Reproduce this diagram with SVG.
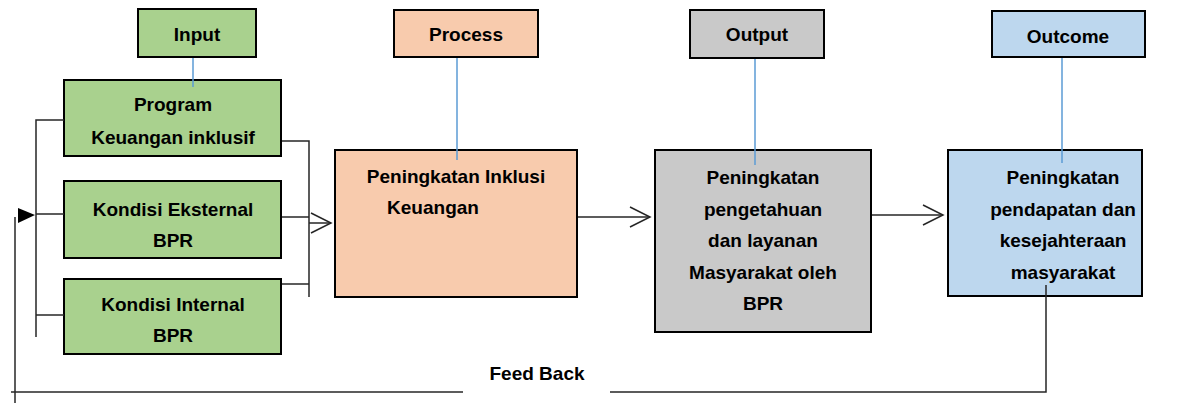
<svg xmlns="http://www.w3.org/2000/svg" width="1188" height="403" viewBox="0 0 1188 403">
  <style>
    .box { stroke: #000; stroke-width: 2; }
    .green { fill: #a9d18e; }
    .peach { fill: #f8cbad; }
    .gray { fill: #c9c9c9; }
    .blue { fill: #bdd7ee; }
    .t { font-family: "Liberation Sans", Arial, sans-serif; font-weight: bold; font-size: 19px; fill: #000; text-anchor: middle; }
    .ln { stroke: #262626; stroke-width: 1.5; fill: none; }
    .tie { stroke: #5b9bd5; stroke-width: 1.5; fill: none; }
  </style>
  <defs>
    <marker id="open" markerWidth="24" markerHeight="24" refX="22" refY="11" orient="auto" markerUnits="userSpaceOnUse">
      <path d="M2,1 L22,11 L2,21" fill="none" stroke="#262626" stroke-width="1.5"/>
    </marker>
  </defs>

  <!-- header labels -->
  <g id="hdr-input">
    <rect class="box green" x="138" y="9" width="118" height="48"/>
    <text class="t" x="197" y="41">Input</text>
  </g>
  <g id="hdr-process">
    <rect class="box peach" x="394" y="10" width="144" height="47"/>
    <text class="t" x="466" y="41">Process</text>
  </g>
  <g id="hdr-output">
    <rect class="box gray" x="690" y="10" width="134" height="48"/>
    <text class="t" x="757" y="41">Output</text>
  </g>
  <g id="hdr-outcome">
    <rect class="box blue" x="992" y="11" width="153" height="46"/>
    <text class="t" x="1068" y="43">Outcome</text>
  </g>

  <!-- input nodes -->
  <g id="program">
    <rect class="box green" x="64" y="80" width="217" height="76"/>
    <text class="t" x="173" y="111">Program</text>
    <text class="t" x="173" y="144">Keuangan inklusif</text>
  </g>
  <g id="eksternal">
    <rect class="box green" x="64" y="181" width="217" height="77"/>
    <text class="t" x="173" y="216">Kondisi Eksternal</text>
    <text class="t" x="173" y="247">BPR</text>
  </g>
  <g id="internal">
    <rect class="box green" x="64" y="279" width="217" height="75"/>
    <text class="t" x="173" y="311">Kondisi Internal</text>
    <text class="t" x="173" y="342">BPR</text>
  </g>

  <!-- process -->
  <g id="process">
    <rect class="box peach" x="335" y="150" width="242" height="147"/>
    <text class="t" x="456" y="183">Peningkatan Inklusi</text>
    <text class="t" x="433" y="214">Keuangan</text>
  </g>

  <!-- output -->
  <g id="output">
    <rect class="box gray" x="655" y="150" width="216" height="182"/>
    <text class="t" x="763" y="184">Peningkatan</text>
    <text class="t" x="763" y="216">pengetahuan</text>
    <text class="t" x="763" y="247">dan layanan</text>
    <text class="t" x="763" y="279">Masyarakat oleh</text>
    <text class="t" x="763" y="310">BPR</text>
  </g>

  <!-- outcome -->
  <g id="outcome">
    <rect class="box blue" x="948" y="150" width="194" height="146"/>
    <text class="t" x="1063" y="184">Peningkatan</text>
    <text class="t" x="1063" y="216">pendapatan dan</text>
    <text class="t" x="1063" y="247">kesejahteraan</text>
    <text class="t" x="1063" y="279">masyarakat</text>
  </g>

  <!-- connectors, drawn over the boxes -->
  <g id="connectors">
    <!-- header ties -->
    <line class="tie" x1="193" y1="58" x2="193" y2="87"/>
    <line class="tie" x1="457" y1="58" x2="457" y2="160"/>
    <line class="tie" x1="755" y1="59" x2="755" y2="165"/>
    <line class="tie" x1="1062" y1="58" x2="1062" y2="163"/>
    <!-- left bracket -->
    <polyline class="ln" points="64,120 36,120 36,337"/>
    <line class="ln" x1="36" y1="214" x2="64" y2="214"/>
    <line class="ln" x1="36" y1="315" x2="64" y2="315"/>
    <!-- right bracket -->
    <polyline class="ln" points="282,141 309,141 309,297"/>
    <line class="ln" x1="282" y1="217" x2="309" y2="217"/>
    <line class="ln" x1="282" y1="284" x2="309" y2="284"/>
    <line class="ln" x1="309" y1="223" x2="331" y2="223" marker-end="url(#open)"/>
    <!-- flow arrows -->
    <line class="ln" x1="578" y1="217" x2="650" y2="217" marker-end="url(#open)"/>
    <line class="ln" x1="872" y1="215" x2="943" y2="215" marker-end="url(#open)"/>
    <!-- feedback loop -->
    <polyline class="ln" points="1046,285 1046,392 610,392"/>
    <polyline class="ln" points="463,392 11,392"/>
    <line class="ln" x1="15" y1="217" x2="15" y2="403"/>
    <polygon points="18,208 35,215 18,223" fill="#000"/>
  </g>

  <text class="t" x="537" y="380">Feed Back</text>
</svg>
